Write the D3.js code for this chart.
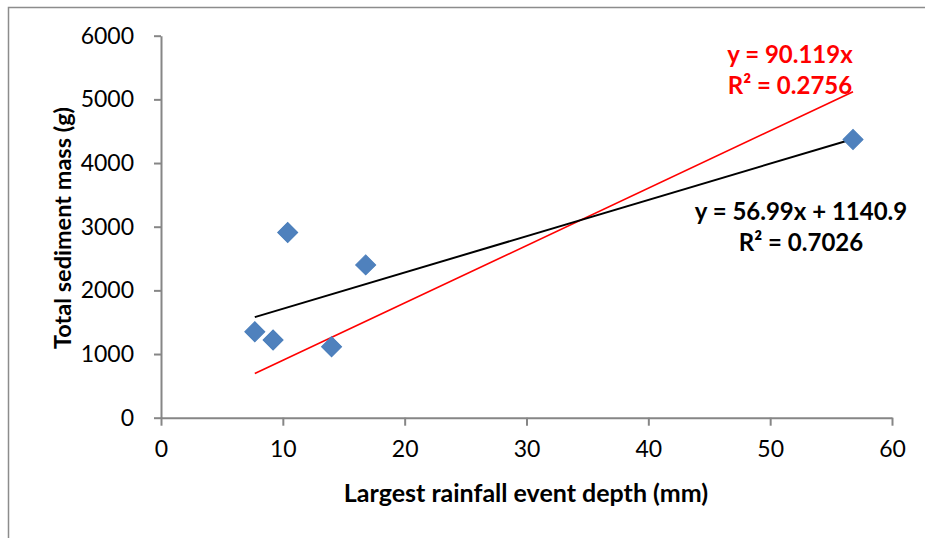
<!DOCTYPE html>
<html>
<head>
<meta charset="utf-8">
<script src="https://cdn.jsdelivr.net/npm/d3@7"></script>
<style>
  html, body { margin: 0; padding: 0; background: #fff; }
  svg { display: block; }
  text { font-family: Lato, "Open Sans", sans-serif; }
</style>
</head>
<body>
<svg id="chart" width="925" height="538"></svg>
<script>
// Rainfall event depth (mm) vs. total sediment mass (g)
const depthMm = [7.7, 9.2, 10.4, 14.0, 16.8, 56.8];
const sedimentG = [1350, 1220, 2910, 1115, 2400, 4370];

const xTicks = [0, 10, 20, 30, 40, 50, 60];
const yTicks = [0, 1000, 2000, 3000, 4000, 5000, 6000];

// Fitted trend lines: linear with intercept, and through the origin
const fitLinear = { slope: 56.99, intercept: 1140.9, r2: 0.7026 };
const fitOrigin = { slope: 90.119, intercept: 0, r2: 0.2756 };

const svg = d3.select("#chart");
const W = 925, H = 538;

// Outer chart frame
svg.append("rect")
  .attr("x", 8.5).attr("y", 7.5)
  .attr("width", W + 20).attr("height", H + 20)
  .attr("fill", "none").attr("stroke", "#8c8c8c").attr("stroke-width", 1.5);

const x = d3.scaleLinear().domain([0, 60]).range([161, 892]);
const y = d3.scaleLinear().domain([0, 6000]).range([417.7, 35.7]);

const axisColor = "#868686";

// Y axis
const yAxis = svg.append("g")
  .attr("transform", `translate(${x(0)},0)`)
  .call(d3.axisLeft(y).tickValues(yTicks).tickFormat(d3.format("d"))
    .tickSize(7).tickSizeOuter(0).tickPadding(20));
// X axis
const xAxis = svg.append("g")
  .attr("transform", `translate(0,${y(0)})`)
  .call(d3.axisBottom(x).tickValues(xTicks).tickFormat(d3.format("d"))
    .tickSize(8).tickSizeOuter(0).tickPadding(15));

[yAxis, xAxis].forEach(g => {
  g.select(".domain").attr("stroke", axisColor).attr("stroke-width", 2);
  g.selectAll(".tick line").attr("stroke", axisColor).attr("stroke-width", 2);
  g.selectAll(".tick text")
    .attr("fill", "#000")
    .style("font-family", "Lato, sans-serif")
    .style("font-size", "23px");
});

// Axis titles
svg.append("text")
  .attr("x", 526).attr("y", 502)
  .attr("text-anchor", "middle")
  .style("font-size", "25px").style("font-weight", "bold")
  .text("Largest rainfall event depth (mm)");

svg.append("text")
  .attr("transform", `translate(71,${228}) rotate(-90)`)
  .attr("text-anchor", "middle")
  .style("font-size", "23.5px").style("font-weight", "bold")
  .text("Total sediment mass (g)");

// Trend lines span the observed depth range
const [xMin, xMax] = d3.extent(depthMm);
function trend(fit, color, width) {
  svg.append("line")
    .attr("x1", x(xMin)).attr("y1", y(fit.slope * xMin + fit.intercept))
    .attr("x2", x(xMax)).attr("y2", y(fit.slope * xMax + fit.intercept))
    .attr("stroke", color).attr("stroke-width", width);
}
trend(fitOrigin, "#ff0000", 1.6);
trend(fitLinear, "#000000", 2);

// Data points as diamonds
const diamond = d3.symbol().type(d3.symbolSquare).size(200);
svg.append("g").selectAll("path")
  .data(depthMm.map((d, i) => [d, sedimentG[i]]))
  .join("path")
  .attr("d", diamond)
  .attr("transform", d => `translate(${x(d[0])},${y(d[1])}) rotate(45)`)
  .attr("fill", "#4f81bd")
  .attr("stroke", "#4a7ebb").attr("stroke-width", 1);

// Equation labels
function eqLabel(lines, cx, y0, color) {
  const t = svg.append("text")
    .attr("text-anchor", "middle")
    .attr("fill", color)
    .style("font-size", "24px").style("font-weight", "bold");
  lines.forEach((s, i) => {
    t.append("tspan").attr("x", cx).attr("y", y0 + i * 31).text(s);
  });
}
eqLabel([`y = ${fitOrigin.slope}x`, `R² = ${fitOrigin.r2}`], 790, 63, "#ff0000");
eqLabel([`y = ${fitLinear.slope}x + ${fitLinear.intercept}`, `R² = ${fitLinear.r2}`], 801, 220, "#000000");
</script>
</body>
</html>
